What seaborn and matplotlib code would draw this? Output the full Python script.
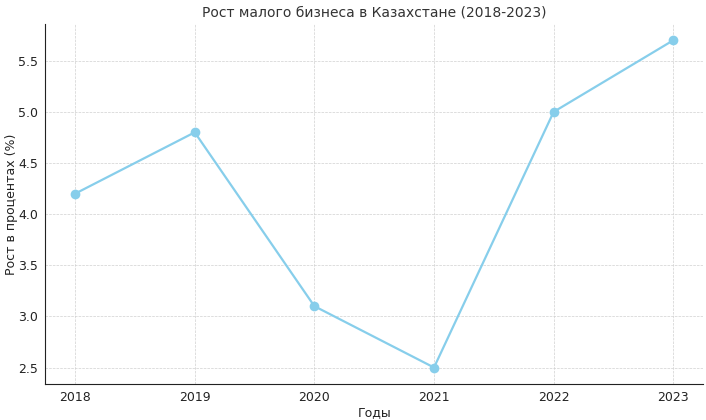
import matplotlib
matplotlib.use("Agg")
import matplotlib.pyplot as plt
import seaborn as sns
import pandas as pd

years = [2018, 2019, 2020, 2021, 2022, 2023]
growth = [4.2, 4.8, 3.1, 2.5, 5.0, 5.7]

sns.set_style("ticks")
plt.rcParams['font.family'] = ['DejaVu Sans']
plt.rcParams['text.color'] = '#333333'
plt.rcParams['axes.labelcolor'] = '#222222'
plt.rcParams['xtick.color'] = '#222222'
plt.rcParams['ytick.color'] = '#222222'

df = pd.DataFrame({"year": years, "growth": growth})

fig, ax = plt.subplots(figsize=(7.06, 4.2), dpi=100)
fig.subplots_adjust(left=0.064, right=0.996, bottom=0.086, top=0.943)
sns.lineplot(data=df, x="year", y="growth", marker="o", color="skyblue",
             linewidth=1.6, markersize=7, markeredgewidth=0, ax=ax)
ax.set_xticks(years)
ax.set_title("Рост малого бизнеса в Казахстане (2018-2023)", fontsize=10, pad=5)
ax.set_xlabel("Годы", fontsize=9, labelpad=2)
ax.set_ylabel("Рост в процентах (%)", fontsize=9, labelpad=0)
ax.tick_params(labelsize=9, length=0, pad=5)
ax.grid(True, linestyle='--', linewidth=0.5, color='#d0d0d0')
for s in ['top', 'right']:
    ax.spines[s].set_visible(False)
for s in ['left', 'bottom']:
    ax.spines[s].set_color('#222222')
fig.savefig("out.png", dpi=100)
